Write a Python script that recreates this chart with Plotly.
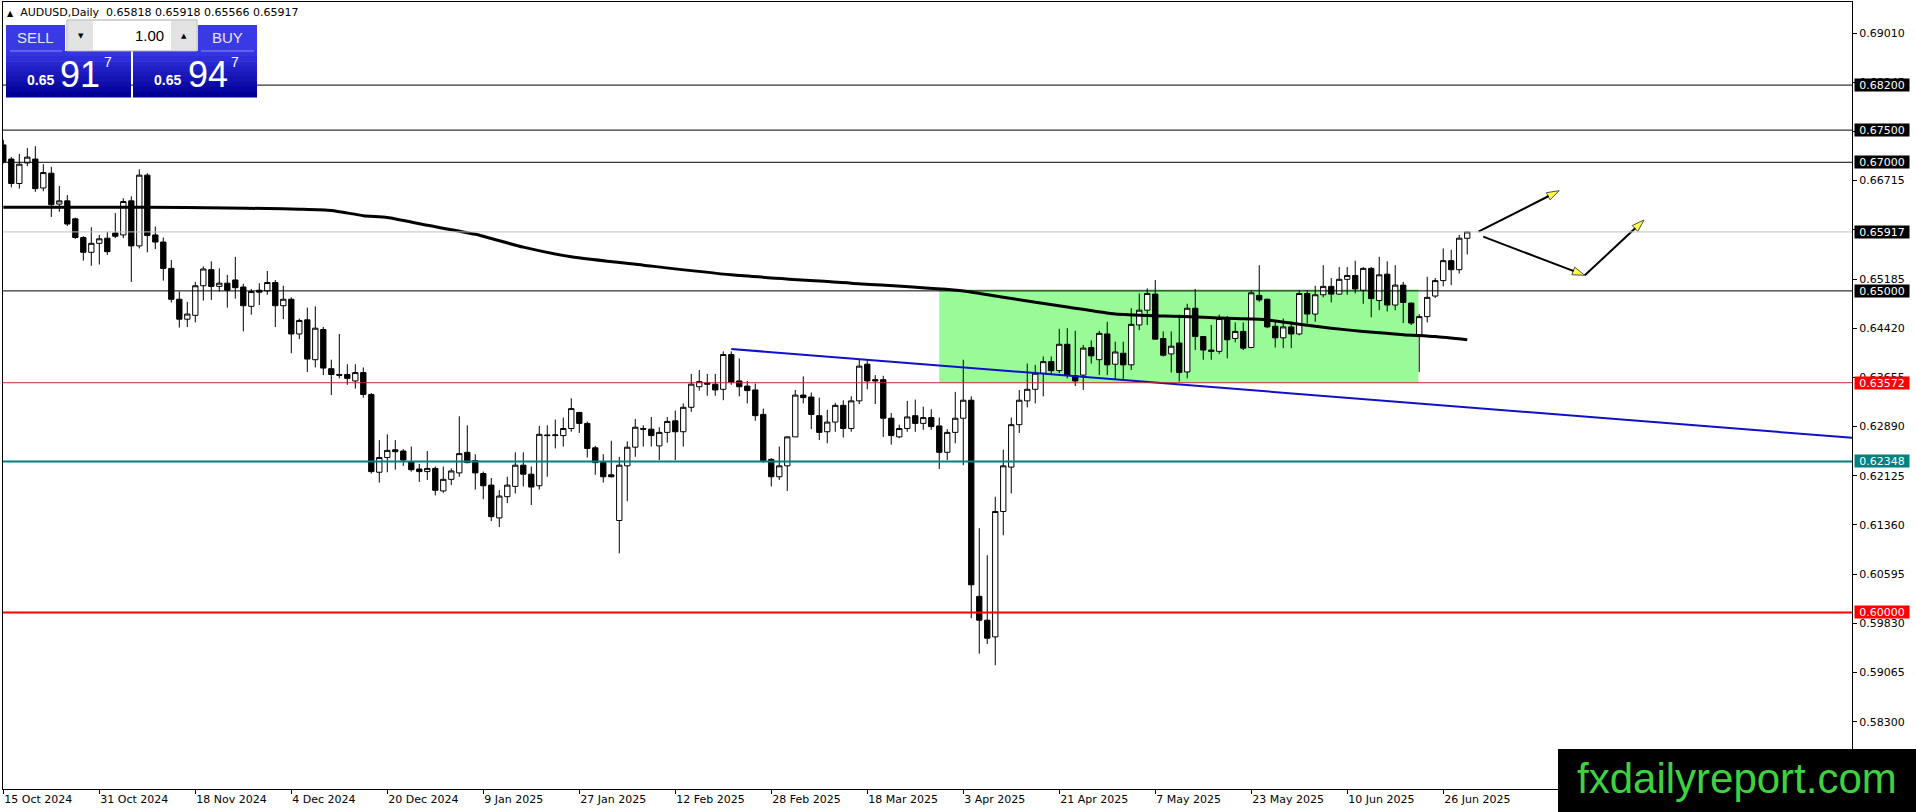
import pandas as pd
import plotly.graph_objects as go

# --- data -----------------------------------------------------------------
# MT4 daily bars: weekdays, without 25 Dec and 1 Jan
dates = [d for d in pd.bdate_range("2024-10-15", "2025-07-01")
         if d.strftime("%m-%d") not in ("12-25", "01-01")]

opens = [
    0.6727, 0.6705, 0.6667, 0.6699, 0.6705, 0.6660, 0.6683, 0.6635, 0.6640, 0.6612,
    0.6583, 0.6560, 0.6574, 0.6582, 0.6590, 0.6587, 0.6640, 0.6570, 0.6680, 0.6587,
    0.6576, 0.6535, 0.6487, 0.6456, 0.6462, 0.6508, 0.6533, 0.6507, 0.6512, 0.6517,
    0.6506, 0.6476, 0.6501, 0.6500, 0.6513, 0.6477, 0.6487, 0.6433, 0.6455, 0.6393,
    0.6440, 0.6379, 0.6370, 0.6370, 0.6360, 0.6373, 0.6339, 0.6218, 0.6241, 0.6253,
    0.6251, 0.6234, 0.6223, 0.6219, 0.6224, 0.6189, 0.6207, 0.6217, 0.6249, 0.6236,
    0.6216, 0.6198, 0.6147, 0.6180, 0.6196, 0.6229, 0.6215, 0.6197, 0.6276, 0.6275,
    0.6275, 0.6286, 0.6311, 0.6294, 0.6256, 0.6233, 0.6214, 0.6143, 0.6228, 0.6257,
    0.6286, 0.6285, 0.6259, 0.6280, 0.6298, 0.6281, 0.6319, 0.6351, 0.6357, 0.6355,
    0.6347, 0.6401, 0.6360, 0.6352, 0.6346, 0.6308, 0.6238, 0.6211, 0.6228, 0.6273,
    0.6338, 0.6335, 0.6306, 0.6281, 0.6296, 0.6322, 0.6286, 0.6329, 0.6386, 0.6362,
    0.6362, 0.6302, 0.6273, 0.6286, 0.6306, 0.6294, 0.6303, 0.6290, 0.6249, 0.6280,
    0.6302, 0.6330, 0.6025, 0.5988, 0.5962, 0.6157, 0.6226, 0.6292, 0.6329, 0.6347,
    0.6372, 0.6390, 0.6376, 0.6417, 0.6368, 0.6369, 0.6412, 0.6393, 0.6433, 0.6386,
    0.6403, 0.6385, 0.6447, 0.6470, 0.6495, 0.6426, 0.6402, 0.6419, 0.6374, 0.6473,
    0.6429, 0.6408, 0.6406, 0.6456, 0.6426, 0.6437, 0.6412, 0.6493, 0.6487, 0.6445,
    0.6427, 0.6444, 0.6433, 0.6496, 0.6464, 0.6494, 0.6507, 0.6495, 0.6518, 0.6524,
    0.6501, 0.6535, 0.6485, 0.6526, 0.6478, 0.6509, 0.6481, 0.6429, 0.6460, 0.6492,
    0.6516, 0.6547, 0.6533, 0.65818,
]
highs = [
    0.6735, 0.6708, 0.6713, 0.6722, 0.6725, 0.6697, 0.6693, 0.6663, 0.6649, 0.6614,
    0.6585, 0.6599, 0.6587, 0.6592, 0.6621, 0.6644, 0.6647, 0.6689, 0.6683, 0.6600,
    0.6583, 0.6548, 0.6499, 0.6483, 0.6514, 0.6538, 0.6546, 0.6535, 0.6525, 0.6553,
    0.6511, 0.6503, 0.6512, 0.6531, 0.6517, 0.6508, 0.6490, 0.6457, 0.6474, 0.6476,
    0.6444, 0.6393, 0.6433, 0.6386, 0.6386, 0.6381, 0.6341, 0.6268, 0.6277, 0.6268,
    0.6254, 0.6258, 0.6231, 0.6251, 0.6227, 0.6227, 0.6224, 0.6305, 0.6291, 0.6246,
    0.6219, 0.6209, 0.6190, 0.6211, 0.6249, 0.6249, 0.6227, 0.6290, 0.6291, 0.6300,
    0.6303, 0.6333, 0.6312, 0.6297, 0.6259, 0.6246, 0.6267, 0.6242, 0.6266, 0.6301,
    0.6291, 0.6304, 0.6288, 0.6304, 0.6314, 0.6325, 0.6371, 0.6377, 0.6371, 0.6371,
    0.6406, 0.6406, 0.6395, 0.6360, 0.6356, 0.6317, 0.6240, 0.6258, 0.6274, 0.6346,
    0.6367, 0.6342, 0.6334, 0.6315, 0.6326, 0.6330, 0.6336, 0.6393, 0.6393, 0.6369,
    0.6368, 0.6310, 0.6292, 0.6329, 0.6331, 0.6320, 0.6316, 0.6303, 0.6285, 0.6343,
    0.6393, 0.6336, 0.6131, 0.6089, 0.6180, 0.6253, 0.6303, 0.6346, 0.6387, 0.6385,
    0.6398, 0.6398, 0.6441, 0.6442, 0.6438, 0.6416, 0.6423, 0.6438, 0.6452, 0.6421,
    0.6421, 0.6473, 0.6496, 0.6504, 0.6517, 0.6437, 0.6437, 0.6463, 0.6480, 0.6503,
    0.6430, 0.6447, 0.6463, 0.6461, 0.6451, 0.6451, 0.6501, 0.6540, 0.6488, 0.6455,
    0.6457, 0.6452, 0.6501, 0.6501, 0.6508, 0.6540, 0.6520, 0.6537, 0.6537, 0.6547,
    0.6537, 0.6537, 0.6553, 0.6546, 0.6540, 0.6514, 0.6482, 0.6464, 0.6522, 0.6520,
    0.6566, 0.6564, 0.6587, 0.65918,
]
lows = [
    0.6698, 0.6661, 0.6659, 0.6694, 0.6654, 0.6655, 0.6615, 0.6623, 0.6601, 0.6581,
    0.6547, 0.6539, 0.6541, 0.6556, 0.6582, 0.6582, 0.6514, 0.6566, 0.6560, 0.6565,
    0.6516, 0.6482, 0.6443, 0.6444, 0.6451, 0.6485, 0.6486, 0.6499, 0.6474, 0.6488,
    0.6437, 0.6463, 0.6478, 0.6494, 0.6444, 0.6456, 0.6403, 0.6425, 0.6374, 0.6381,
    0.6369, 0.6338, 0.6364, 0.6354, 0.6348, 0.6334, 0.6216, 0.6202, 0.6218, 0.6222,
    0.6228, 0.6219, 0.6203, 0.6206, 0.6182, 0.6186, 0.6198, 0.6211, 0.6232, 0.6191,
    0.6176, 0.6142, 0.6133, 0.6170, 0.6185, 0.6196, 0.6167, 0.6191, 0.6211, 0.6255,
    0.6258, 0.6281, 0.6279, 0.6241, 0.6214, 0.6202, 0.6210, 0.6092, 0.6173, 0.6242,
    0.6258, 0.6258, 0.6237, 0.6264, 0.6237, 0.6258, 0.6312, 0.6345, 0.6337, 0.6337,
    0.6330, 0.6354, 0.6336, 0.6325, 0.6298, 0.6233, 0.6196, 0.6206, 0.6189, 0.6273,
    0.6325, 0.6285, 0.6268, 0.6263, 0.6281, 0.6272, 0.6281, 0.6324, 0.6347, 0.6324,
    0.6273, 0.6261, 0.6271, 0.6281, 0.6281, 0.6284, 0.6284, 0.6223, 0.6237, 0.6263,
    0.6229, 0.5991, 0.5936, 0.5951, 0.5918, 0.6120, 0.6185, 0.6279, 0.6319, 0.6325,
    0.6336, 0.6370, 0.6372, 0.6364, 0.6352, 0.6346, 0.6387, 0.6369, 0.6369, 0.6362,
    0.6362, 0.6377, 0.6439, 0.6447, 0.6425, 0.6398, 0.6373, 0.6359, 0.6364, 0.6408,
    0.6393, 0.6393, 0.6402, 0.6395, 0.6420, 0.6408, 0.6411, 0.6483, 0.6442, 0.6412,
    0.6411, 0.6411, 0.6431, 0.6449, 0.6452, 0.6490, 0.6482, 0.6494, 0.6494, 0.6496,
    0.6480, 0.6459, 0.6470, 0.6468, 0.6470, 0.6450, 0.6447, 0.6374, 0.6451, 0.6489,
    0.6507, 0.6509, 0.6527, 0.65566,
]
closes = [
    0.6701, 0.6667, 0.6697, 0.6708, 0.6659, 0.6684, 0.6634, 0.6640, 0.6604, 0.6583,
    0.6560, 0.6574, 0.6581, 0.6561, 0.6585, 0.6639, 0.6570, 0.6680, 0.6586, 0.6576,
    0.6535, 0.6487, 0.6456, 0.6464, 0.6508, 0.6534, 0.6507, 0.6512, 0.6501, 0.6505,
    0.6477, 0.6499, 0.6498, 0.6513, 0.6477, 0.6487, 0.6433, 0.6454, 0.6394, 0.6442,
    0.6380, 0.6370, 0.6369, 0.6364, 0.6373, 0.6339, 0.6219, 0.6241, 0.6252, 0.6250,
    0.6237, 0.6222, 0.6219, 0.6224, 0.6190, 0.6207, 0.6220, 0.6247, 0.6233, 0.6217,
    0.6197, 0.6149, 0.6181, 0.6198, 0.6229, 0.6215, 0.6195, 0.6277, 0.6275, 0.6276,
    0.6286, 0.6317, 0.6294, 0.6255, 0.6233, 0.6211, 0.6211, 0.6229, 0.6257, 0.6288,
    0.6285, 0.6275, 0.6280, 0.6297, 0.6281, 0.6319, 0.6355, 0.6359, 0.6355, 0.6346,
    0.6401, 0.6358, 0.6351, 0.6345, 0.6306, 0.6236, 0.6211, 0.6228, 0.6273, 0.6338,
    0.6334, 0.6308, 0.6280, 0.6296, 0.6322, 0.6286, 0.6329, 0.6383, 0.6360, 0.6360,
    0.6302, 0.6275, 0.6286, 0.6304, 0.6294, 0.6303, 0.6289, 0.6249, 0.6280, 0.6302,
    0.6330, 0.6043, 0.5988, 0.5960, 0.6157, 0.6228, 0.6292, 0.6330, 0.6347, 0.6372,
    0.6390, 0.6376, 0.6417, 0.6369, 0.6360, 0.6411, 0.6399, 0.6434, 0.6385, 0.6405,
    0.6385, 0.6448, 0.6470, 0.6496, 0.6425, 0.6400, 0.6414, 0.6373, 0.6473, 0.6429,
    0.6408, 0.6406, 0.6457, 0.6424, 0.6437, 0.6411, 0.6497, 0.6486, 0.6444, 0.6427,
    0.6444, 0.6433, 0.6496, 0.6464, 0.6494, 0.6507, 0.6495, 0.6518, 0.6524, 0.6503,
    0.6535, 0.6488, 0.6525, 0.6478, 0.6509, 0.6482, 0.6450, 0.6460, 0.6490, 0.6516,
    0.6547, 0.6533, 0.6582, 0.65917,
]

# moving average read at some bars (bar number, value)
ma_bars = [0, 18, 28, 33, 37, 41, 45, 48, 53, 59, 65, 71, 80, 91, 106, 120, 125, 133,
           139, 145, 150, 154, 158, 162, 166, 170, 175, 179, 183]
ma_vals = [0.6630, 0.6630, 0.6629, 0.6628, 0.6627, 0.6625, 0.6617, 0.6614, 0.6602,
           0.6588, 0.6568, 0.6553, 0.6540, 0.6525, 0.6512, 0.6500, 0.6490, 0.6475,
           0.6464, 0.6461, 0.6459, 0.6457, 0.6455, 0.6448, 0.6442, 0.6437, 0.6432,
           0.6429, 0.6424]

# drawn objects
trend_bars = [91, 232]
trend_vals = [0.64096, 0.62707]
box_bars = [117, 176.9]
box_vals = [0.63572, 0.65025]
arrows = [
    ([184.4, 194.5], [0.65920, 0.66558]),
    ([185.0, 197.7], [0.65843, 0.65242]),
    ([197.7, 205.1], [0.65242, 0.66102]),
]
levels = [0.68200, 0.67500, 0.67000, 0.65917, 0.65000, 0.63572, 0.62348, 0.60000]
level_line = ["black", "black", "black", "#c0c0c0", "black", "#c8282d", "#008080", "#ff0000"]
level_width = [1, 1, 1, 1, 1, 1, 2, 2]
level_tag = ["black", "black", "black", "black", "black", "#ff0000", "#008080", "#ff0000"]

price_ticks = [0.58300, 0.59065, 0.59830, 0.60595, 0.61360, 0.62125, 0.62890, 0.63655,
               0.64420, 0.65185, 0.65950, 0.66715, 0.67480, 0.68245, 0.69010]
date_labels = ["15 Oct 2024", "31 Oct 2024", "18 Nov 2024", "4 Dec 2024", "20 Dec 2024",
               "9 Jan 2025", "27 Jan 2025", "12 Feb 2025", "28 Feb 2025", "18 Mar 2025",
               "3 Apr 2025", "21 Apr 2025", "7 May 2025", "23 May 2025", "10 Jun 2025",
               "26 Jun 2025"]

# --- page geometry ---------------------------------------------------------
W, H = 1916, 812
ML, MR, MT, MB = 3, 64, 2, 23
PW, PH = W - ML - MR, H - MT - MB


def fx(px):
    return (px - ML) / PW


def fy(py):
    return (H - MB - py) / PH


bars = list(range(len(dates)))
day_text = [d.strftime("%-d %b %Y") for d in dates]
tick_pos = [day_text.index(t) for t in date_labels]

FONT = "DejaVu Sans"
fig = go.Figure()

fig.add_trace(go.Candlestick(
    x=bars, open=opens, high=highs, low=lows, close=closes,
    text=day_text, hoverinfo="x+y+text",
    increasing=dict(line=dict(color="black", width=1), fillcolor="white"),
    decreasing=dict(line=dict(color="black", width=1), fillcolor="black"),
    whiskerwidth=0, showlegend=False,
))

fig.add_trace(go.Scatter(x=ma_bars, y=ma_vals, mode="lines",
                         line=dict(color="black", width=3, shape="spline", smoothing=0.6),
                         showlegend=False, hoverinfo="skip"))
fig.add_trace(go.Scatter(x=trend_bars, y=trend_vals, mode="lines",
                         line=dict(color="#1010c8", width=2), showlegend=False,
                         hoverinfo="skip"))

for ax, ay in arrows:
    fig.add_trace(go.Scatter(
        x=ax, y=ay, mode="lines+markers", showlegend=False, hoverinfo="skip",
        line=dict(color="black", width=2),
        marker=dict(symbol="arrow", size=[0, 13], angleref="previous",
                    color="#ffff00", line=dict(color="black", width=1)),
    ))

shapes = []
# green box behind the candles
shapes.append(dict(type="rect", xref="x", yref="y", x0=box_bars[0], x1=box_bars[1],
                   y0=box_vals[0], y1=box_vals[1], fillcolor="#98fb98",
                   line=dict(width=0), layer="below"))
for lv, lc, lw in zip(levels, level_line, level_width):
    shapes.append(dict(type="line", xref="paper", yref="y", x0=0, x1=1, y0=lv, y1=lv,
                       line=dict(color=lc, width=lw), layer="above"))

annotations = []
for lv, tc in zip(levels, level_tag):
    annotations.append(dict(xref="paper", yref="y", x=1, xshift=2, y=lv,
                            xanchor="left", yanchor="middle", text=f"{lv:.5f}",
                            showarrow=False, bgcolor=tc, width=54, height=12,
                            borderpad=0, font=dict(family=FONT, size=11, color="white")))

# header line
annotations.append(dict(xref="paper", yref="paper", x=fx(5), y=fy(13), xanchor="left",
                        yanchor="middle", showarrow=False,
                        text="<span style='font-size:8px'>▲</span>  AUDUSD,Daily  "
                             "0.65818 0.65918 0.65566 0.65917",
                        font=dict(family=FONT, size=11, color="black")))


# one-click trading panel
def rect(x0, y0, x1, y1, fill, line=None):
    shapes.append(dict(type="rect", xref="paper", yref="paper", x0=fx(x0), x1=fx(x1),
                       y0=fy(y1), y1=fy(y0), fillcolor=fill,
                       line=dict(width=1 if line else 0, color=line or fill),
                       layer="above"))


def label(x, y, txt, size, color="white", family="Liberation Sans", anchor="center"):
    annotations.append(dict(xref="paper", yref="paper", x=fx(x), y=fy(y), xanchor=anchor,
                            yanchor="middle", text=txt, showarrow=False,
                            font=dict(family=family, size=size, color=color)))


top_c, bot_c = (52, 52, 226), (0, 0, 150)
steps = 9
for k in range(steps):
    t = k / (steps - 1)
    c = "rgb(%d,%d,%d)" % tuple(round(a + (b - a) * t) for a, b in zip(top_c, bot_c))
    y0 = 51 + k * 46 / steps
    rect(6, y0, 131, y0 + 46 / steps + 0.6, c)
    rect(133, y0, 257, y0 + 46 / steps + 0.6, c)
rect(6, 25, 65, 51, "rgb(58,58,228)")
rect(198, 25, 257, 51, "rgb(58,58,228)")
shapes.append(dict(type="line", xref="paper", yref="paper", x0=fx(10), x1=fx(62),
                   y0=fy(51), y1=fy(51), line=dict(color="#8c8cf0", width=1), layer="above"))
shapes.append(dict(type="line", xref="paper", yref="paper", x0=fx(201), x1=fx(254),
                   y0=fy(51), y1=fy(51), line=dict(color="#8c8cf0", width=1), layer="above"))
rect(67, 20, 197, 51, "white", "#a8a8a8")
rect(68, 21, 93, 50, "#e3e3e3")
rect(171, 21, 196, 50, "#e3e3e3")
label(80.5, 36, "▼", 7, "black", FONT)
label(183.5, 36, "▲", 7, "black", FONT)
label(166, 36, "1.00", 15, "black", anchor="right")
label(35, 38, "SELL", 15, "#e6e6ff")
label(227, 38, "BUY", 15, "#e6e6ff")
label(40, 80, "<b>0.65</b>", 14)
label(80, 74, "91", 36)
label(108, 62, "7", 14)
label(167, 80, "<b>0.65</b>", 14)
label(208, 74, "94", 36)
label(235, 62, "7", 14)

# watermark
rect(1558, 749, 1917, 813, "black")
label(1737, 778, "fxdailyreport.com", 42, "#3ed23e")

fig.update_layout(
    width=W, height=H, autosize=False,
    margin=dict(l=ML, r=MR, t=MT, b=MB),
    paper_bgcolor="white", plot_bgcolor="white",
    boxgap=0.05, boxgroupgap=0.3,
    shapes=shapes, annotations=annotations,
    hovermode="closest", showlegend=False,
    font=dict(family=FONT, size=11, color="black"),
    xaxis=dict(range=[-0.04, 231.1], showgrid=False, zeroline=False,
               rangeslider=dict(visible=False),
               tickmode="array", tickvals=tick_pos, ticktext=date_labels,
               ticks="outside", ticklen=4, tickcolor="black",
               ticklabelposition="outside right",
               showline=True, linecolor="black", linewidth=1, mirror=True,
               tickfont=dict(family=FONT, size=11, color="black")),
    yaxis=dict(range=[0.57255, 0.69492], side="right", showgrid=False, zeroline=False,
               tickmode="array", tickvals=price_ticks,
               ticktext=[f"{v:.5f}" for v in price_ticks],
               ticks="outside", ticklen=4, tickcolor="black",
               showline=True, linecolor="black", linewidth=1, mirror=True,
               tickfont=dict(family=FONT, size=11, color="black")),
)

fig.write_html("out.html", config={"displayModeBar": False},
               post_script="document.body.style.margin='0';")
